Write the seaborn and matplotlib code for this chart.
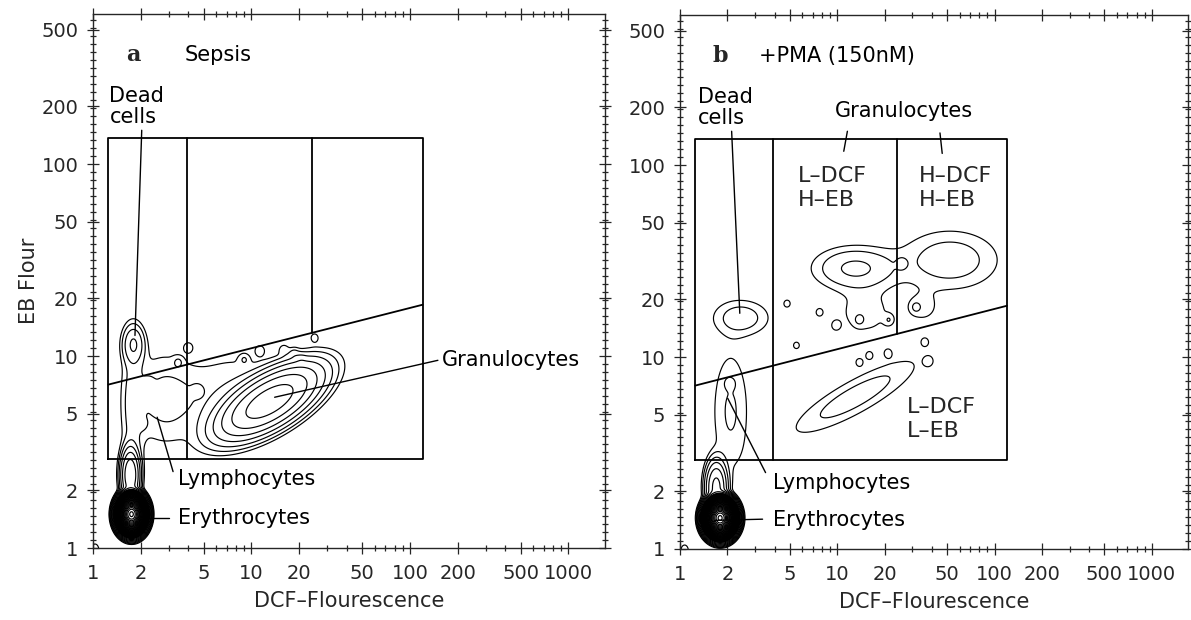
import numpy as np
import pandas as pd
import matplotlib
matplotlib.use("Agg")
import matplotlib.pyplot as plt
import seaborn as sns
from matplotlib.ticker import FixedLocator, FixedFormatter, LogLocator, NullFormatter

# axis ticks
x_ticks = [1, 2, 5, 10, 20, 50, 100, 200, 500, 1000]
y_ticks = [1, 2, 5, 10, 20, 50, 100, 200, 500]

# gate used in both panels: box edges, dividers, diagonal end heights
gate_x = [1.25, 3.9, 24, 120]
gate_y = [2.9, 137]
diag_y = [7.1, 18.5]

# cell populations (centre, log10 spread, tilt, peak)
a_name = ["erythro", "erythro tail", "column", "dead", "lympho", "granulo", "granulo halo", "origin"]
a_cx = [1.75, 1.72, 1.78, 1.8, 2.8, 13, 6.5, 1.03]
a_cy = [1.5, 2.4, 5.5, 11.5, 6.0, 5.8, 7.0, 0.98]
a_sx = [0.027, 0.03, 0.045, 0.04, 0.14, 0.17, 0.2, 0.02]
a_sy = [0.03, 0.07, 0.22, 0.06, 0.16, 0.065, 0.11, 0.025]
a_tilt = [0, 0, 0, 0, 0, 25, 20, 0]
a_peak = [1e6, 60, 2.5, 8, 2.4, 100, 1.6, 2]
a_islands_x = [4.0, 2.54, 2.04, 2.23, 3.45, 4.55, 18.5, 16, 11.3, 20.5, 9.0, 25]
a_islands_y = [11.1, 5.4, 4.4, 7.3, 9.3, 6.6, 10.4, 10.8, 10.7, 9.7, 9.6, 12.5]

b_name = ["erythro", "erythro tail", "lympho", "dead", "LDCF-HEB", "HDCF-HEB", "LDCF-LEB",
          "HEB skirt", "HDCF skirt", "origin"]
b_cx = [1.8, 1.7, 2.1, 2.45, 13, 52, 13, 15, 35, 1.07]
b_cy = [1.45, 2.1, 5.2, 16, 29, 32, 6.2, 17, 18, 0.98]
b_sx = [0.03, 0.035, 0.08, 0.115, 0.16, 0.2, 0.28, 0.13, 0.08, 0.02]
b_sy = [0.03, 0.07, 0.22, 0.06, 0.068, 0.1, 0.06, 0.09, 0.06, 0.025]
b_tilt = [0, 0, 0, 0, 0, 0, 24, 0, 0, 0]
b_peak = [1e6, 40, 2.2, 3, 4.6, 3.1, 2.9, 1.5, 1.3, 2]
b_islands_x = [4.8, 7.7, 9.8, 13.8, 21.3, 5.5, 16, 21, 13.8, 31.6, 25.7, 2.07, 36, 38]
b_islands_y = [19, 17.1, 14.6, 15.6, 15.6, 11.5, 10.2, 10.5, 9.4, 18.2, 30.7, 7.3, 12, 9.5]

# contour levels: doubling steps, finer steps in the very dense region
contour_levels = np.concatenate([2.0 ** np.arange(0, 7), 2.0 ** np.arange(7, 20, 0.4)])

sns.set_style("ticks")
plt.rcParams["font.family"] = ["DejaVu Sans"]
plt.rcParams["axes.linewidth"] = 1.0

lx = np.linspace(-0.05, 3.3, 900)
ly = np.linspace(-0.05, 2.85, 720)
LX, LY = np.meshgrid(lx, ly)


def density(cx, cy, sx, sy, tilt, peak, isl_x, isl_y):
    z = np.zeros_like(LX)
    for i in range(len(cx)):
        t = np.deg2rad(tilt[i])
        dx = LX - np.log10(cx[i])
        dy = LY - np.log10(cy[i])
        u = dx * np.cos(t) + dy * np.sin(t)
        v = -dx * np.sin(t) + dy * np.cos(t)
        z += peak[i] * np.exp(-0.5 * ((u / sx[i]) ** 2 + (v / sy[i]) ** 2))
    for xi, yi in zip(isl_x, isl_y):
        z += 1.4 * np.exp(-0.5 * (((LX - np.log10(xi)) / 0.022) ** 2 + ((LY - np.log10(yi)) / 0.02) ** 2))
    return z


def gate_frame():
    xl, xd1, xd2, xr = gate_x
    yb, yt = gate_y
    # diagonal height where the second divider meets it
    f = (np.log10(xd2) - np.log10(xl)) / (np.log10(xr) - np.log10(xl))
    yd = 10 ** (np.log10(diag_y[0]) + f * (np.log10(diag_y[1]) - np.log10(diag_y[0])))
    segs = [
        [(xl, yb), (xr, yb), (xr, yt), (xl, yt), (xl, yb)],
        [(xd1, yb), (xd1, yt)],
        [(xd2, yt), (xd2, yd)],
        [(xl, diag_y[0]), (xr, diag_y[1])],
    ]
    rows = []
    for k, s in enumerate(segs):
        for j, (x, y) in enumerate(s):
            rows.append({"seg": k, "order": j, "x": x, "y": y})
    return pd.DataFrame(rows)


def style_axes(ax):
    ax.set_xscale("log")
    ax.set_yscale("log")
    ax.set_xlim(1, 1700)
    ax.set_ylim(1, 605)
    ax.xaxis.set_major_locator(FixedLocator(x_ticks))
    ax.xaxis.set_major_formatter(FixedFormatter([str(v) for v in x_ticks]))
    ax.yaxis.set_major_locator(FixedLocator(y_ticks))
    ax.yaxis.set_major_formatter(FixedFormatter([str(v) for v in y_ticks]))
    ax.xaxis.set_minor_locator(LogLocator(base=10, subs=np.arange(2, 10)))
    ax.yaxis.set_minor_locator(FixedLocator(10 ** np.arange(0, 2.8, 1 / 24)))
    ax.xaxis.set_minor_formatter(NullFormatter())
    ax.yaxis.set_minor_formatter(NullFormatter())
    ax.tick_params(which="both", direction="inout", top=True, right=True,
                   labeltop=False, labelright=False, width=0.9, labelsize=14)
    ax.tick_params(which="major", length=9)
    ax.tick_params(which="minor", length=5)
    ax.tick_params(axis="x", which="major", pad=7)
    ax.tick_params(axis="y", which="major", pad=6)
    ax.set_xlabel("DCF\u2013Flourescence", fontsize=15, labelpad=6)


def draw_panel(ax, cx, cy, sx, sy, tilt, peak, isl_x, isl_y):
    z = density(cx, cy, sx, sy, tilt, peak, isl_x, isl_y)
    ax.contour(10 ** LX, 10 ** LY, z, levels=contour_levels, colors="black", linewidths=0.85)
    sns.lineplot(data=gate_frame(), x="x", y="y", units="seg", estimator=None, sort=False,
                 color="black", lw=1.3, ax=ax)
    style_axes(ax)


fig = plt.figure(figsize=(11.91, 6.2), dpi=100)
ax_a = fig.add_axes([93 / 1191, 72 / 620, 512 / 1191, 534 / 620])
ax_b = fig.add_axes([680 / 1191, 71 / 620, 508 / 1191, 534 / 620])

draw_panel(ax_a, a_cx, a_cy, a_sx, a_sy, a_tilt, a_peak, a_islands_x, a_islands_y)
draw_panel(ax_b, b_cx, b_cy, b_sx, b_sy, b_tilt, b_peak, b_islands_x, b_islands_y)

ax_a.set_ylabel("EB Flour", fontsize=15, labelpad=2)
ax_b.set_ylabel("")

lbl = dict(fontsize=15, color="black")
ptr = dict(color="black", lw=1.0)

# panel a annotations
ax_a.text(1.62, 370, "a", fontsize=16, fontweight="bold", family="DejaVu Serif", va="center")
ax_a.text(3.76, 370, "Sepsis", va="center", **lbl)
ax_a.text(1.27, 200, "Dead\ncells", va="center", linespacing=1.05, **lbl)
ax_a.plot([2.03, 1.84], [150, 12.8], **ptr)
ax_a.plot([14, 150], [6.1, 9.5], **ptr)
ax_a.text(160, 9.5, "Granulocytes", va="center", **lbl)
ax_a.plot([2.54, 3.2], [4.8, 2.5], **ptr)
ax_a.text(3.45, 2.3, "Lymphocytes", va="center", **lbl)
ax_a.plot([2.3, 3.0], [1.43, 1.43], **ptr)
ax_a.text(3.45, 1.43, "Erythrocytes", va="center", **lbl)

# panel b annotations
ax_b.text(1.62, 370, "b", fontsize=16, fontweight="bold", family="DejaVu Serif", va="center")
ax_b.text(3.2, 370, "+PMA (150nM)", va="center", **lbl)
ax_b.text(1.3, 200, "Dead\ncells", va="center", linespacing=1.05, **lbl)
ax_b.plot([2.13, 2.4], [150, 16.9], **ptr)
ax_b.text(26.6, 191, "Granulocytes", ha="center", va="center", **lbl)
ax_b.plot([11.6, 11.0], [150, 118], **ptr)
ax_b.plot([45, 46.5], [147, 115], **ptr)
ax_b.text(5.6, 76, "L\u2013DCF\nH\u2013EB", va="center", linespacing=1.25, fontsize=16)
ax_b.text(33, 76, "H\u2013DCF\nH\u2013EB", va="center", linespacing=1.25, fontsize=16)
ax_b.text(27.8, 4.76, "L\u2013DCF\nL\u2013EB", va="center", linespacing=1.25, fontsize=16)
ax_b.plot([2.01, 3.5], [6.1, 2.5], **ptr)
ax_b.text(3.9, 2.2, "Lymphocytes", va="center", **lbl)
ax_b.plot([1.66, 3.35], [1.41, 1.43], **ptr)
ax_b.text(3.9, 1.41, "Erythrocytes", va="center", **lbl)

fig.savefig("out.png", dpi=100)
